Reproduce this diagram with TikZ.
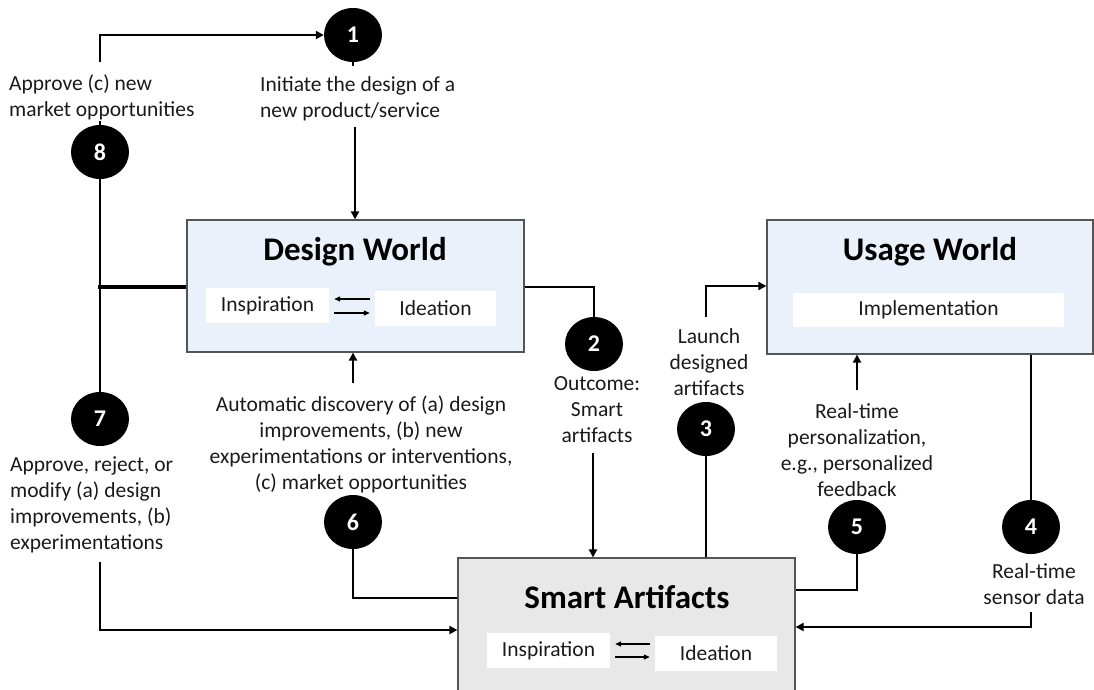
\documentclass[tikz,border=0pt]{standalone}
\usepackage{fontspec}
\setmainfont{Carlito}
\usetikzlibrary{arrows.meta,shapes.geometric}
\definecolor{worldblue}{HTML}{EAF1FB}
\definecolor{smartgray}{HTML}{E8E8E8}
\definecolor{bordergray}{HTML}{555555}
\definecolor{txt}{HTML}{1A1A1A}
\newcommand\bodyfont{\fontsize{21.5}{26}\selectfont}
\tikzset{
 conn/.style={line width=2.8pt, draw=black},
 arr/.style={conn, -{Triangle[length=8pt,width=8pt]}},
 world/.style={draw=bordergray, line width=1.2pt, inner sep=0},
 inbox/.style={fill=white, inner sep=0, font=\bodyfont, text=txt},
 num/.style={ellipse, fill=black, minimum width=58pt, minimum height=54pt, inner sep=0, text=white, font=\bfseries\fontsize{24}{28}\selectfont},
 lbl/.style={inner sep=0, font=\bodyfont, text=txt},
 wtitle/.style={font=\bfseries\fontsize{33}{40}\selectfont, inner sep=0, anchor=base},
 swap/.style={line width=1.3pt, -{Triangle[length=6pt,width=5pt]}, shorten <=5pt, shorten >=5pt}
}
\begin{document}
\begin{tikzpicture}[x=1pt,y=-1pt]
\useasboundingbox (0,0) rectangle (1094,690);
% boxes
\node[world, fill=worldblue, minimum width=337, minimum height=132] (dw) at (355.5,286) {};
\node[world, fill=worldblue, minimum width=326, minimum height=134] (uw) at (930,287) {};
\node[world, fill=smartgray, minimum width=337, minimum height=142] (sa) at (626.5,629) {};
\node[wtitle] (dwt) at (355,260) {Design World};
\node[wtitle] (uwt) at (930,260) {Usage World};
\node[wtitle] (sat) at (627,608) {Smart Artifacts};
\node[inbox, minimum width=123, minimum height=35] (insp1) at (267.5,305.5) {Inspiration};
\node[inbox, minimum width=121, minimum height=35] (ide1) at (435.5,308.5) {Ideation};
\node[inbox, minimum width=271, minimum height=34] (impl) at (928.5,310) {Implementation};
\node[inbox, minimum width=123, minimum height=35] (insp2) at (548.5,650.5) {Inspiration};
\node[inbox, minimum width=122, minimum height=35] (ide2) at (716,653.5) {Ideation};
\draw[swap] (ide1.west |- 0,299) -- (insp1.east |- 0,299);
\draw[swap] (insp1.east |- 0,313) -- (ide1.west |- 0,313);
\draw[swap] (ide2.west |- 0,644) -- (insp2.east |- 0,644);
\draw[swap] (insp2.east |- 0,657) -- (ide2.west |- 0,657);
% numbered circles
\node[num] (c1) at (353,35) {1};
\node[num] (c2) at (594,344) {2};
\node[num] (c3) at (706,429) {3};
\node[num] (c4) at (1031,527) {4};
\node[num] (c5) at (857,527) {5};
\node[num] (c6) at (353,522) {6};
\node[num] (c7) at (100,419) {7};
\node[num] (c8) at (100,152) {8};
% labels
\node[lbl, align=left, anchor=west] (t8) at (9,97) {Approve (c) new\\market opportunities};
\node[lbl, align=left, anchor=west] (t1) at (260,99) {Initiate the design of a\\new product/service};
\node[lbl, align=left, anchor=west] (t7) at (10,505) {Approve, reject, or\\modify (a) design\\improvements, (b)\\experimentations};
\node[lbl, align=center] (t6) at (361,444) {Automatic discovery of (a) design\\improvements, (b) new\\experimentations or interventions,\\(c) market opportunities};
\node[lbl, align=center] (t2) at (597,410) {Outcome:\\Smart\\artifacts};
\node[lbl, align=center] (t3) at (709,362) {Launch\\designed\\artifacts};
\node[lbl, align=center] (t5) at (857,450) {Real-time\\personalization,\\e.g., personalized\\feedback};
\node[lbl, align=center] (t4) at (1034,584) {Real-time\\sensor data};
% coordinates for free ends
\coordinate (p8top) at (100,62);
\coordinate (p1in) at (355,127);
\coordinate (p6up) at (353,383);
\coordinate (p2down) at (593,453);
\coordinate (p3up) at (706,317);
\coordinate (p5up) at (857,390);
\coordinate (p4low) at (1031,612);
\coordinate (p7low) at (100,562);
% connectors
\draw[arr] (p8top) |- (c1.west);
\draw[conn] (c1.south) -- ++(0,4);
\draw[conn] (c8.north) -- ++(0,-4);
\draw[arr] (p1in) -- (p1in |- dw.north);
\draw[conn] (c8.south) -- (c7.north);
\draw[conn, line width=3.6pt] (dw.west |- 0,287) -- (98.2,287);
\draw[conn] (dw.east |- 0,287) -| (c2.north);
\draw[arr] (p2down) -- (p2down |- sa.north);
\draw[conn] (c3.south) -- (c3.south |- sa.north);
\draw[arr] (p3up) |- (uw.west |- 0,286);
\draw[conn] (c4.north |- uw.south) -- (c4.north);
\draw[arr] (p4low) |- (sa.east |- 0,627);
\draw[conn] (c5.south) |- (sa.east |- 0,590);
\draw[arr] (p5up) -- (p5up |- uw.south);
\draw[arr] (p6up) -- (p6up |- dw.south);
\draw[conn] (c6.south) |- (sa.west |- 0,598);
\draw[arr] (p7low) |- (sa.west |- 0,630);
\end{tikzpicture}
\end{document}
